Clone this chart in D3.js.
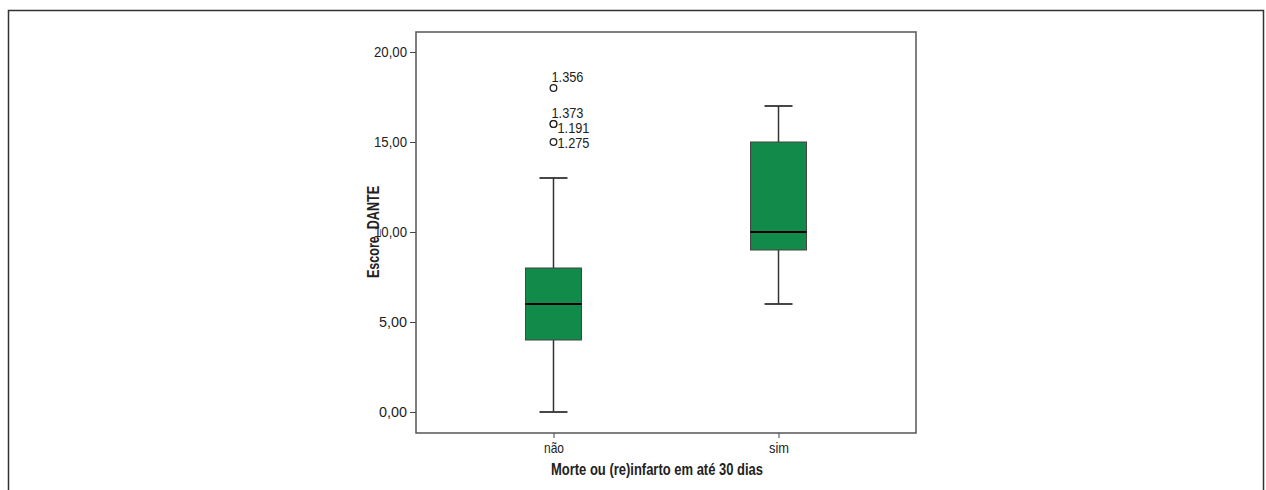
<!DOCTYPE html>
<html><head><meta charset="utf-8">
<script src="https://cdn.jsdelivr.net/npm/d3@7"></script>
<style>body{margin:0;background:#fff}svg{display:block}text{font-family:"Liberation Sans",Arial,sans-serif;fill:#222}</style>
</head><body><svg id="c" width="1266" height="490"></svg>
<script>
const categories = ["não", "sim"];
const whiskerLow = [0, 6];
const q1 = [4, 9];
const median = [6, 10];
const q3 = [8, 15];
const whiskerHigh = [13, 17];
const outlierCategory = ["não", "não", "não", "não"];
const outlierValues = [18, 16, 16, 15];
const outlierIds = ["1.356", "1.373", "1.191", "1.275"];
const yTicks = [0, 5, 10, 15, 20];
const yTitle = "Escore_DANTE";
const xTitle = "Morte ou (re)infarto em até 30 dias";

const svg = d3.select("#c");
// outer frame
svg.append("path").attr("d","M8.5,490 V10.5 H1263.5 V490").attr("fill","none").attr("stroke","#333").attr("stroke-width",1.5);

const L=416,R=916,T=32,B=433;
const y = d3.scaleLinear().domain([0,20]).range([412,52]);
const x = d3.scalePoint().domain(categories).range([L,R]).padding(0.611);
const fmt = d => d3.format(".2f")(d).replace(".", ",");

// y axis
const ya = svg.append("g").attr("transform",`translate(${L},0)`)
  .call(d3.axisLeft(y).tickValues(yTicks).tickSize(6).tickPadding(3).tickFormat(fmt));
ya.select(".domain").remove();
ya.selectAll("line").attr("stroke","#444");
ya.selectAll("text").attr("font-size",15).attr("fill","#222").attr("font-family",null)
  .attr("textLength",33).attr("lengthAdjust","spacingAndGlyphs");
ya.selectAll(".tick").filter(d=>d<10).select("text").attr("textLength",28);

// x axis
const xa = svg.append("g").attr("transform",`translate(0,${B})`)
  .call(d3.axisBottom(x).tickSize(5).tickPadding(4));
xa.select(".domain").remove();
xa.selectAll("line").attr("stroke","#444");
xa.selectAll("text").attr("font-size",15).attr("fill","#222").attr("font-family",null);
xa.selectAll(".tick text").each(function(){ const t=d3.select(this); t.attr("textLength", 20).attr("lengthAdjust","spacingAndGlyphs"); });

// plot frame
svg.append("rect").attr("x",L).attr("y",T).attr("width",R-L).attr("height",B-T)
  .attr("fill","none").attr("stroke","#555").attr("stroke-width",1.5);

// boxes
const hw = 28, cw = 14;
categories.forEach((c,i)=>{
  const cx = x(c);
  const g = svg.append("g");
  g.append("line").attr("x1",cx).attr("x2",cx).attr("y1",y(whiskerHigh[i])).attr("y2",y(q3[i])).attr("stroke","#333").attr("stroke-width",1.5);
  g.append("line").attr("x1",cx).attr("x2",cx).attr("y1",y(q1[i])).attr("y2",y(whiskerLow[i])).attr("stroke","#333").attr("stroke-width",1.5);
  [whiskerHigh[i], whiskerLow[i]].forEach(v=>{
    g.append("line").attr("x1",cx-cw).attr("x2",cx+cw).attr("y1",y(v)).attr("y2",y(v)).attr("stroke","#333").attr("stroke-width",1.8);
  });
  g.append("rect").attr("x",cx-hw).attr("y",y(q3[i])).attr("width",2*hw).attr("height",y(q1[i])-y(q3[i]))
    .attr("fill","#118a4a").attr("stroke","#444").attr("stroke-width",1);
  g.append("line").attr("x1",cx-hw).attr("x2",cx+hw).attr("y1",y(median[i])).attr("y2",y(median[i])).attr("stroke","#000").attr("stroke-width",2);
});

// outliers
let prev = -Infinity;
outlierValues.map((v,i)=>({v,i})).sort((a,b)=>b.v-a.v).forEach(({v,i})=>{
  const cx = x(outlierCategory[i]), cy = y(v);
  svg.append("circle").attr("cx",cx).attr("cy",cy).attr("r",3.3).attr("fill","#fff").attr("stroke","#222").attr("stroke-width",1.3);
  let ly = cy - 11;
  if (ly < prev + 15) ly = prev + 15;
  prev = ly;
  const lx = (cy - ly > 5) ? cx - 2 : cx + 4;
  svg.append("text").attr("x",lx).attr("y",ly).attr("dy","0.35em").attr("font-size",15)
    .attr("textLength",32).attr("lengthAdjust","spacingAndGlyphs").text(outlierIds[i]);
});

// titles
svg.append("text").attr("x",657).attr("y",475).attr("text-anchor","middle").attr("font-size",17).attr("font-weight","bold")
  .attr("textLength",212).attr("lengthAdjust","spacingAndGlyphs").text(xTitle);
svg.append("text").attr("transform",`translate(379,${y(10)}) rotate(-90)`).attr("text-anchor","middle").attr("font-size",16).attr("font-weight","bold")
  .attr("textLength",92).attr("lengthAdjust","spacingAndGlyphs").text(yTitle);
</script></body></html>
